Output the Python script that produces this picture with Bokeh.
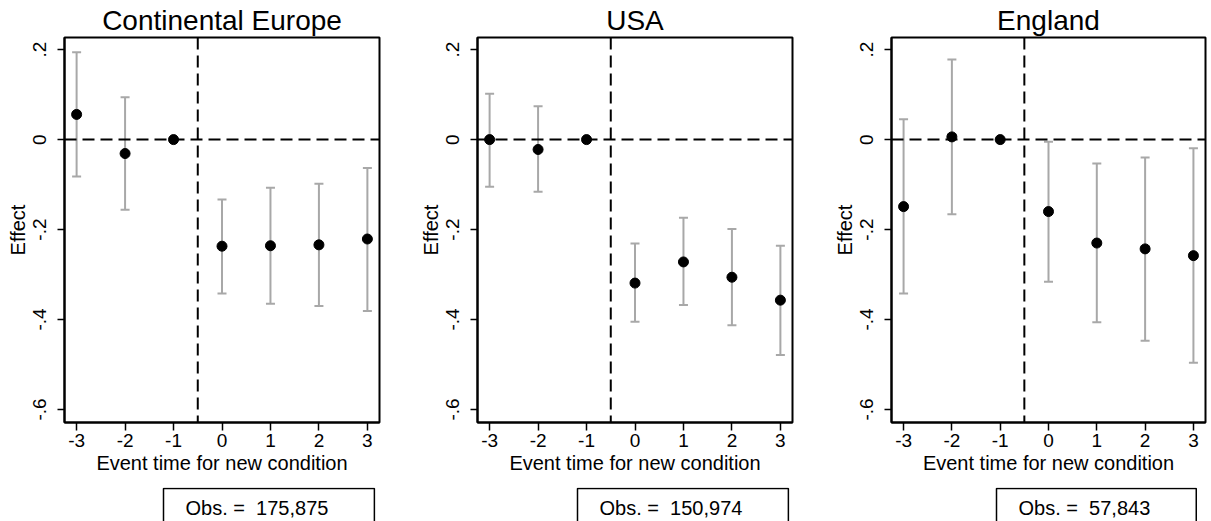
from bokeh.plotting import figure
from bokeh.models import (Span, Whisker, TeeHead, ColumnDataSource, FixedTicker,
                          Label, Range1d)
from bokeh.layouts import row, column
from bokeh.embed import file_html
from bokeh.resources import INLINE

# ---------------- data ----------------
events = [-3, -2, -1, 0, 1, 2, 3]

eu_est = [0.056, -0.031, 0.0, -0.237, -0.236, -0.234, -0.221]
eu_lo = [-0.082, -0.156, 0.0, -0.342, -0.365, -0.370, -0.381]
eu_hi = [0.194, 0.094, 0.0, -0.133, -0.107, -0.098, -0.063]

usa_est = [0.0, -0.022, 0.0, -0.319, -0.272, -0.306, -0.357]
usa_lo = [-0.105, -0.116, 0.0, -0.405, -0.368, -0.413, -0.479]
usa_hi = [0.102, 0.074, 0.0, -0.231, -0.174, -0.199, -0.236]

eng_est = [-0.149, 0.006, 0.0, -0.160, -0.230, -0.243, -0.258]
eng_lo = [-0.342, -0.166, 0.0, -0.316, -0.406, -0.447, -0.496]
eng_hi = [0.045, 0.178, 0.0, -0.005, -0.053, -0.040, -0.019]

titles = ["Continental Europe", "USA", "England"]
obs = ["175,875", "150,974", "57,843"]

x_ticks = [-3, -2, -1, 0, 1, 2, 3]
x_tick_labels = ["-3", "-2", "-1", "0", "1", "2", "3"]
y_ticks = [-0.6, -0.4, -0.2, 0.0, 0.2]
y_tick_labels = ["-.6", "-.4", "-.2", "0", ".2"]

x_label = "Event time for new condition"
y_label = "Effect"

FONT = "Liberation Sans"

# ---------------- layout constants ----------------
panels = [
    dict(width=408, left=64, right=29, box_x=99),
    dict(width=404, left=69, right=20, box_x=100),
    dict(width=399, left=79, right=6, box_x=105),
]
MAIN_H = 487
OBS_H = 34
TOP = 37
BOTTOM = MAIN_H - 422

series = [(eu_est, eu_lo, eu_hi), (usa_est, usa_lo, usa_hi), (eng_est, eng_lo, eng_hi)]

cols = []
for i, (est, lo, hi) in enumerate(series):
    cfg = panels[i]
    p = figure(width=cfg["width"], height=MAIN_H,
               x_range=Range1d(-3.25, 3.25), y_range=Range1d(-0.629, 0.227),
               output_backend="svg", toolbar_location=None,
               min_border_left=cfg["left"], min_border_right=cfg["right"],
               min_border_top=TOP, min_border_bottom=BOTTOM,
               background_fill_color="white", border_fill_color="white",
               title=titles[i])
    p.title.align = "center"
    p.title.text_font = FONT
    p.title.text_font_size = "28px"
    p.title.text_font_style = "normal"
    p.title.text_color = "black"
    p.title.standoff = 3
    p.title.offset = 0

    p.outline_line_color = "black"
    p.outline_line_width = 2
    p.outline_line_alpha = 1
    p.xgrid.visible = False
    p.ygrid.visible = False

    # axes
    for ax in (p.xaxis[0], p.yaxis[0]):
        ax.axis_line_color = "black"
        ax.axis_line_width = 2
        ax.major_tick_line_color = "black"
        ax.major_tick_line_width = 1.5
        ax.major_tick_in = 0
        ax.minor_tick_line_color = None
        ax.major_label_text_font = FONT
        ax.major_label_text_font_size = "19px"
        ax.major_label_text_color = "black"
        ax.axis_label_text_font = FONT
        ax.axis_label_text_font_size = "20px"
        ax.axis_label_text_font_style = "normal"
        ax.axis_label_text_color = "black"

    p.xaxis[0].ticker = FixedTicker(ticks=x_ticks)
    p.xaxis[0].major_label_overrides = {t: s for t, s in zip(x_ticks, x_tick_labels)}
    p.xaxis[0].major_tick_out = 8
    p.xaxis[0].major_label_standoff = 3
    p.xaxis[0].axis_label_standoff = 2
    p.xaxis[0].axis_label = x_label

    p.yaxis[0].ticker = FixedTicker(ticks=y_ticks)
    p.yaxis[0].major_label_overrides = {t: s for t, s in zip(y_ticks, y_tick_labels)}
    p.yaxis[0].major_label_orientation = "vertical"
    p.yaxis[0].major_tick_out = 7
    p.yaxis[0].major_label_standoff = 11
    p.yaxis[0].axis_label_standoff = 2
    p.yaxis[0].axis_label = y_label

    # reference lines
    p.add_layout(Span(location=0, dimension="width", line_color="black",
                      line_width=2, line_dash="12 6"))
    p.add_layout(Span(location=-0.5, dimension="height", line_color="black",
                      line_width=2, line_dash="12 6"))

    src = ColumnDataSource(dict(x=events, est=est, lo=lo, hi=hi))
    gray = "#a8a8a8"
    p.add_layout(Whisker(base="x", lower="lo", upper="hi", source=src,
                         line_color=gray, line_width=2,
                         upper_head=TeeHead(size=9, line_color=gray, line_width=2),
                         lower_head=TeeHead(size=9, line_color=gray, line_width=2)))
    p.scatter("x", "est", source=src, size=10, color="black")

    # observation-count box below the panel (frame is aligned with the panel's frame)
    o = figure(width=cfg["width"], height=OBS_H,
               x_range=Range1d(0, 1), y_range=Range1d(0, 1),
               output_backend="svg", toolbar_location=None,
               x_axis_location=None, y_axis_location=None,
               min_border=0, min_border_left=0, min_border_right=0,
               min_border_top=0, min_border_bottom=0,
               outline_line_color=None,
               background_fill_color="white", border_fill_color="white")
    o.xgrid.visible = False
    o.ygrid.visible = False
    o.add_layout(Label(x=cfg["box_x"], y=OBS_H - 1, x_units="screen", y_units="screen",
                       text="Obs. = \u00a0" + obs[i], text_font=FONT,
                       text_font_size="20px", text_color="black",
                       text_align="left", text_baseline="top",
                       border_line_color="black", border_line_width=1.5,
                       background_fill_color="white",
                       padding=(22, 46, 8, 30)))
    cols.append(column(p, o, spacing=0))

layout = row(*cols, spacing=0)
open("out.html", "w").write(file_html(layout, INLINE))
